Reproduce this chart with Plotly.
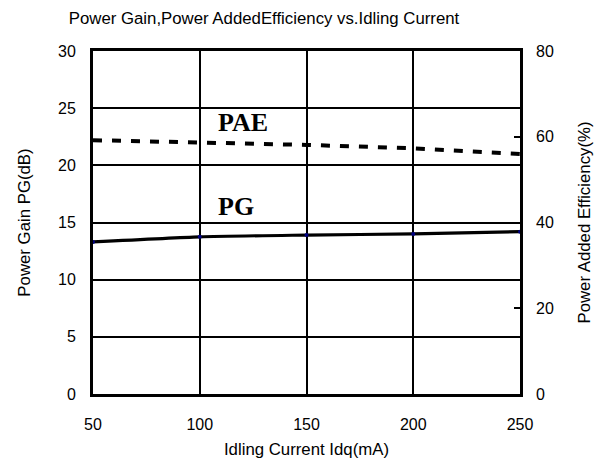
import plotly.graph_objects as go

idq = [50, 100, 150, 200, 250]
pg_db = [13.3, 13.75, 13.9, 14.0, 14.2]
pae_pct = [59.2, 58.7, 58.1, 57.3, 56.0]

x_ticks = [50, 100, 150, 200, 250]
y_ticks = [0, 5, 10, 15, 20, 25, 30]
y2_ticks = [0, 20, 40, 60, 80]

SANS = "Liberation Sans, Arial, sans-serif"
SERIF = "Liberation Serif, Times New Roman, serif"

fig = go.Figure()
fig.add_trace(go.Scatter(
    x=idq, y=pg_db, mode="lines+markers", name="PG",
    line=dict(color="black", width=3.2, shape="spline", smoothing=0.6),
    marker=dict(color="#000080", size=4),
    yaxis="y", cliponaxis=False,
))
fig.add_trace(go.Scatter(
    x=idq, y=pae_pct, mode="lines", name="PAE",
    line=dict(color="black", width=4, dash="9px,10px"),
    yaxis="y2",
))

fig.update_layout(
    width=599, height=466,
    margin=dict(l=93, r=79, t=51, b=72, autoexpand=False),
    paper_bgcolor="white", plot_bgcolor="white",
    showlegend=False,
    font=dict(family=SANS, size=16, color="black"),
    title=dict(text="Power Gain,Power AddedEfficiency vs.Idling Current",
               x=264/599, xanchor="center", y=1-18/466, yanchor="middle",
               font=dict(family=SANS, size=16.8, color="black")),
    xaxis=dict(
        range=[50, 250], tickvals=x_ticks, ticktext=[str(v) for v in x_ticks],
        showgrid=True, gridcolor="black", gridwidth=1.8,
        showline=True, linecolor="black", linewidth=3, mirror=True,
        ticks="", ticklabelstandoff=14, zeroline=False, automargin=False,
        title=dict(text="Idling Current Idq(mA)", standoff=12,
                   font=dict(family=SANS, size=16.8)),
    ),
    yaxis=dict(
        range=[0, 30], tickvals=y_ticks, ticktext=[str(v) for v in y_ticks],
        showgrid=True, gridcolor="black", gridwidth=1.8,
        showline=True, linecolor="black", linewidth=3, mirror=True,
        ticks="", ticklabelstandoff=11, zeroline=False, automargin=False,
        title=dict(text="Power Gain PG(dB)", standoff=24,
                   font=dict(family=SANS, size=16.8)),
    ),
    yaxis2=dict(
        range=[0, 80], tickvals=y2_ticks, ticktext=[str(v) for v in y2_ticks],
        overlaying="y", side="right", showgrid=False, zeroline=False,
        ticks="inside", ticklen=6, tickwidth=1.5, tickcolor="black",
        ticklabelstandoff=15, automargin=False,
        title=dict(text="Power Added Efficiency(%)", standoff=25,
                   font=dict(family=SANS, size=16.8)),
    ),
    annotations=[
        dict(x=120.4, y=23.75, xref="x", yref="y", text="<b>PAE</b>",
             showarrow=False, font=dict(family=SERIF, size=26, color="black")),
        dict(x=116.9, y=16.4, xref="x", yref="y", text="<b>PG</b>",
             showarrow=False, font=dict(family=SERIF, size=26, color="black")),
    ],
)

fig.write_html("out.html", config={"displayModeBar": False},
               post_script="document.body.style.margin='0';document.body.style.overflow='hidden';")
